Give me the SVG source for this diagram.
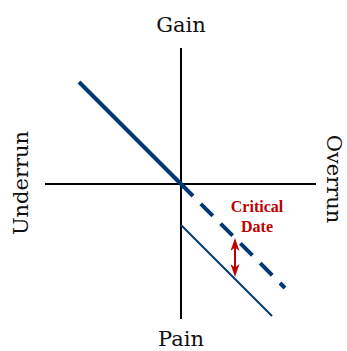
<svg xmlns="http://www.w3.org/2000/svg" width="347" height="351" viewBox="0 0 347 351">
<defs>
<style>
.axis{stroke:#000;stroke-width:2;fill:none}
.blue{stroke:#003876;fill:none}
.lbl{font-family:"DejaVu Serif","Liberation Serif",serif;font-size:21px;fill:#111;text-anchor:middle}
.red{font-family:"Liberation Serif",serif;font-weight:bold;font-size:16px;fill:#c00000;text-anchor:middle}
</style>
<marker id="ah" viewBox="0 0 13 9" refX="6" refY="4.5" markerWidth="13" markerHeight="9" orient="auto-start-reverse" markerUnits="userSpaceOnUse">
<path d="M0,0 L13,4.5 L0,9 L3.5,4.5 Z" fill="#c00000"/>
</marker>
</defs>
<rect width="347" height="351" fill="#fff"/>
<g id="axes">
<line class="axis" x1="181" y1="48" x2="181" y2="319"/>
<line class="axis" x1="45" y1="184" x2="316" y2="184"/>
</g>
<g id="connectors">
<line class="blue" x1="79" y1="82" x2="181" y2="184" stroke-width="4"/>
<line class="blue" x1="181" y1="184" x2="285" y2="288" stroke-width="4" stroke-dasharray="17 11"/>
<line class="blue" x1="181" y1="225" x2="272" y2="316" stroke-width="2"/>
<line x1="235" y1="245" x2="235" y2="270" stroke="#c00000" stroke-width="2" marker-start="url(#ah)" marker-end="url(#ah)"/>
</g>
<g id="gain"><text class="lbl" x="181" y="32">Gain</text></g>
<g id="pain"><text class="lbl" x="181" y="346">Pain</text></g>
<g id="underrun"><text class="lbl" transform="translate(28,183) rotate(-90)">Underrun</text></g>
<g id="overrun"><text class="lbl" transform="translate(327,179) rotate(90)">Overrun</text></g>
<g id="critical"><text class="red" x="257" y="212">Critical</text><text class="red" x="257" y="232">Date</text></g>
</svg>
